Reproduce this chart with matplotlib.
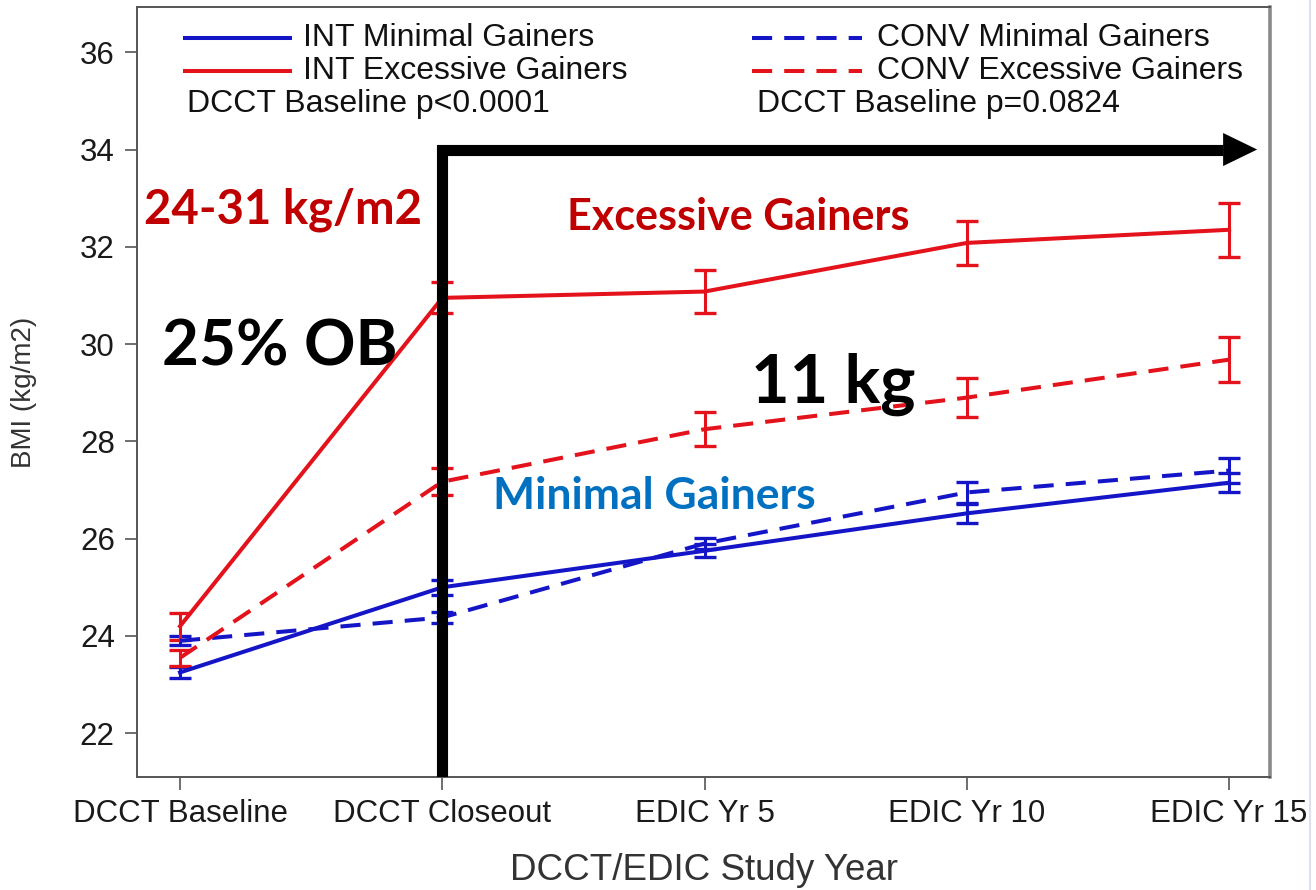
import matplotlib
matplotlib.use("Agg")
import matplotlib.pyplot as plt
from matplotlib.lines import Line2D

# Study visits
years = ["DCCT Baseline", "DCCT Closeout", "EDIC Yr 5", "EDIC Yr 10", "EDIC Yr 15"]

# Mean BMI (kg/m2) and error-bar half widths per group
int_min = [23.25, 25.00, 25.75, 26.52, 27.15]
int_min_err = [0.11, 0.15, 0.13, 0.20, 0.20]
conv_min = [23.90, 24.38, 25.90, 26.95, 27.40]
conv_min_err = [0.09, 0.12, 0.12, 0.22, 0.25]
int_exc = [24.20, 30.95, 31.08, 32.08, 32.35]
int_exc_err = [0.28, 0.32, 0.45, 0.45, 0.56]
conv_exc = [23.55, 27.17, 28.25, 28.90, 29.68]
conv_exc_err = [0.17, 0.28, 0.35, 0.40, 0.46]

yticks = [22, 24, 26, 28, 30, 32, 34, 36]

BLUE = "#1515C8"
RED = "#E3121B"
DARK_RED = "#C00000"
MID_BLUE = "#0070C0"

plt.rcParams["font.family"] = ["Liberation Sans", "DejaVu Sans"]

fig = plt.figure(figsize=(13.16, 8.90), dpi=100)
ax = fig.add_axes([137 / 1316, 113 / 890, 1133 / 1316, 770 / 890])

x = list(range(len(years)))
lw = 2.9
common = dict(lw=lw, capsize=8, capthick=2.4, elinewidth=2.2, zorder=3)
ax.errorbar(x, conv_min, yerr=conv_min_err, color=BLUE, ls=(0, (5, 3)), **common)
ax.errorbar(x, int_min, yerr=int_min_err, color=BLUE, ls="-", **common)
ax.errorbar(x, conv_exc, yerr=conv_exc_err, color=RED, ls=(0, (5, 3)), **common)
ax.errorbar(x, int_exc, yerr=int_exc_err, color=RED, ls="-", **common)

ax.set_xlim(-0.164, 4.156)
ax.set_ylim(21.10, 36.93)
ax.set_xticks(x)
ax.set_xticklabels(years)
ax.set_yticks(yticks)
ax.tick_params(axis="both", labelsize=22.5, labelcolor="#1a1a1a", color="#555555",
               length=9, width=1.2, pad=7)

for side in ("left", "bottom", "top"):
    ax.spines[side].set_color("#555555")
    ax.spines[side].set_linewidth(1.4)
ax.spines["right"].set_color("#8a8a8a")
ax.spines["right"].set_linewidth(2.6)

ax.set_ylabel("BMI (kg/m2)", fontsize=20, color="#333333", labelpad=31)
ax.set_xlabel("DCCT/EDIC Study Year", fontsize=26.5, color="#333333", labelpad=17)

# Key in the upper part of the panel
tr = ax.transAxes
rows = [0.9598, 0.9170, 0.8745]
key_fs = 23
ax.add_line(Line2D([0.0424, 0.135], [rows[0]] * 2, color=BLUE, lw=lw, transform=tr))
ax.add_line(Line2D([0.0424, 0.135], [rows[1]] * 2, color=RED, lw=lw, transform=tr))
ax.text(0.1465, rows[0], "INT Minimal Gainers", transform=tr, fontsize=key_fs,
        va="center", color="#111111")
ax.text(0.1465, rows[1], "INT Excessive Gainers", transform=tr, fontsize=key_fs,
        va="center", color="#111111")
ax.text(0.0441, rows[2], "DCCT Baseline p<0.0001", transform=tr, fontsize=key_fs,
        va="center", color="#111111")
ax.add_line(Line2D([0.5428, 0.6399], [rows[0]] * 2, color=BLUE, lw=lw,
                   ls=(0, (5, 3)), transform=tr))
ax.add_line(Line2D([0.5428, 0.6399], [rows[1]] * 2, color=RED, lw=lw,
                   ls=(0, (5, 3)), transform=tr))
ax.text(0.6531, rows[0], "CONV Minimal Gainers", transform=tr, fontsize=key_fs,
        va="center", color="#111111")
ax.text(0.6531, rows[1], "CONV Excessive Gainers", transform=tr, fontsize=key_fs,
        va="center", color="#111111")
ax.text(0.5472, rows[2], "DCCT Baseline p=0.0824", transform=tr, fontsize=key_fs,
        va="center", color="#111111")

# Follow-up period marker: bent thick arrow from closeout onward
ax.plot([1, 1, 3.975], [21.10, 34.0, 34.0], color="black", lw=8,
        solid_joinstyle="miter", solid_capstyle="butt", zorder=6)
ax.annotate("", xy=(4.107, 34.0), xytext=(3.96, 34.0),
            arrowprops=dict(arrowstyle="-|>,head_length=2.45,head_width=1.19",
                            mutation_scale=10, fc="black", ec="none", lw=0,
                            shrinkA=0, shrinkB=0), zorder=6)

# Callouts
bold = ["Lato", "DejaVu Sans"]
ax.text(-0.137, 32.48, "24-31 kg/m2", fontsize=34, fontweight="bold", family=bold,
        color=DARK_RED, ha="left", va="baseline", zorder=7)
ax.text(1.476, 32.34, "Excessive Gainers", fontsize=31, fontweight="bold", family=bold,
        color=DARK_RED, ha="left", va="baseline", zorder=7)
ax.text(-0.070, 29.55, "25% OB", fontsize=46, fontweight="bold", family=bold,
        color="black", ha="left", va="baseline", zorder=7)
ax.text(2.176, 28.80, "11 kg", fontsize=48, fontweight="bold", family=bold,
        color="black", ha="left", va="baseline", zorder=7)
ax.text(1.193, 26.60, "Minimal Gainers", fontsize=32, fontweight="bold", family=bold,
        color=MID_BLUE, ha="left", va="baseline", zorder=7)

fig.add_artist(Line2D([1310 / 1316] * 2, [0, 1], color="#dde2ea", lw=1.5,
                      transform=fig.transFigure))

fig.savefig("out.png", dpi=100, facecolor="white")
